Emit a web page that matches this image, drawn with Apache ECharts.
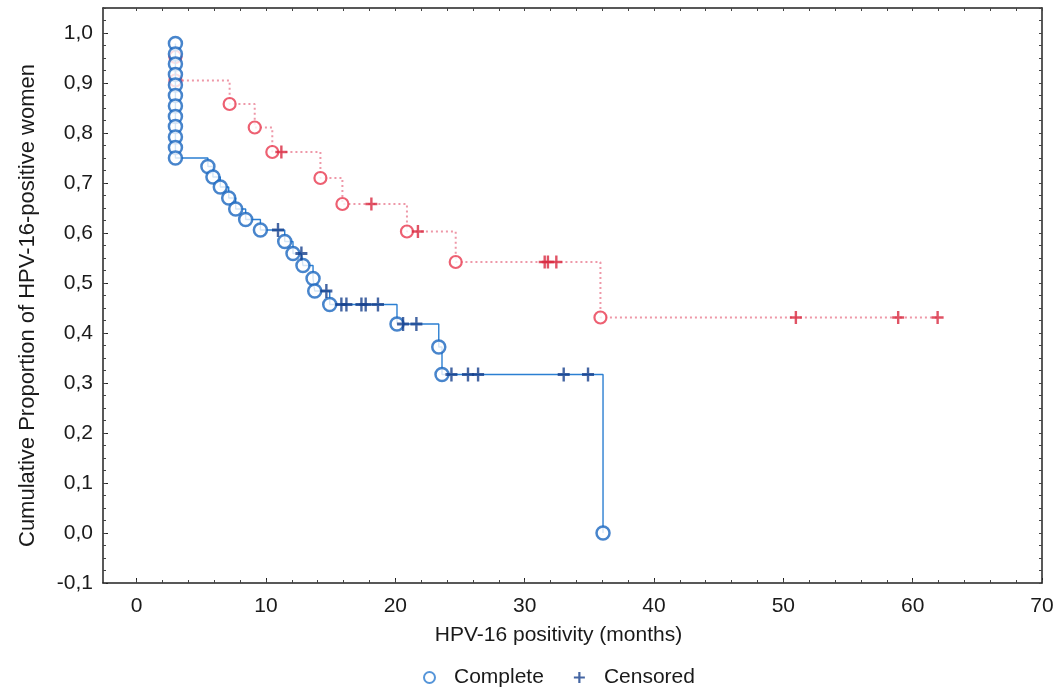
<!DOCTYPE html>
<html>
<head>
<meta charset="utf-8">
<title>HPV-16 positivity</title>
<script src="https://cdn.jsdelivr.net/npm/echarts@6/dist/echarts.min.js"></script>
<style>
    html, body { margin: 0; padding: 0; background: #fff; }
    #container { width: 1062px; height: 694px; }
</style>
</head>
<body>
<div id="container"></div>
<script type="text/javascript">
    // blue group: month, cumulative proportion, 1 = complete / 0 = censored
    var blueTime = [3, 3, 3, 3, 3, 3, 3, 3, 3, 3, 3, 3,
        5.51, 5.90, 6.47, 7.12, 7.66, 8.43, 9.57, 10.93, 11.45, 12.09, 12.74, 12.86,
        13.64, 13.77, 14.67, 14.93, 15.83, 16.22, 17.38, 17.71, 18.66, 20.13, 20.60, 21.63,
        23.36, 23.61, 24.34, 25.62, 26.40, 33.02, 34.90, 36.06];
    var blueProp = [0.979, 0.958, 0.938, 0.917, 0.896, 0.875, 0.854, 0.833, 0.813, 0.792, 0.771, 0.750,
        0.733, 0.712, 0.692, 0.670, 0.648, 0.627, 0.606, 0.606, 0.583, 0.559, 0.559, 0.535,
        0.509, 0.484, 0.484, 0.457, 0.457, 0.457, 0.457, 0.457, 0.457, 0.418, 0.418, 0.418,
        0.372, 0.317, 0.317, 0.317, 0.317, 0.317, 0.317, 0.0];
    var blueDone = [1, 1, 1, 1, 1, 1, 1, 1, 1, 1, 1, 1,
        1, 1, 1, 1, 1, 1, 1, 0, 1, 1, 0, 1,
        1, 1, 0, 1, 0, 0, 0, 0, 0, 1, 0, 0,
        1, 1, 0, 0, 0, 0, 0, 1];

    // red group
    var redTime = [3, 3, 7.19, 9.13, 10.49, 11.19, 14.21, 15.91, 18.15, 20.90, 21.75,
        24.67, 31.55, 31.80, 32.45, 35.86, 50.97, 58.88, 61.93];
    var redProp = [0.952, 0.905, 0.858, 0.811, 0.762, 0.762, 0.710, 0.658, 0.658, 0.603, 0.603,
        0.542, 0.542, 0.542, 0.542, 0.431, 0.431, 0.431, 0.431];
    var redDone = [1, 1, 1, 1, 1, 0, 1, 1, 0, 1, 0,
        1, 0, 0, 0, 1, 0, 0, 0];

    var xLabels = [0, 10, 20, 30, 40, 50, 60, 70];
    var yLabels = [-0.1, 0, 0.1, 0.2, 0.3, 0.4, 0.5, 0.6, 0.7, 0.8, 0.9, 1.0];

    var font = 'Liberation Sans, Arial, sans-serif';
    var plus = 'path://M4,0H6V4H10V6H6V10H4V6H0V4H4Z';

    function pts(t, p) {
        var out = [];
        for (var i = 0; i < t.length; i++) out.push([t[i], p[i]]);
        return out;
    }
    function pick(t, p, d, flag) {
        var out = [];
        for (var i = 0; i < t.length; i++) if (d[i] === flag) out.push([t[i], p[i]]);
        return out;
    }

    var minorX = [], minorY = [];
    for (var i = 0; i <= 35; i++) minorX.push(i * 2);
    for (var j = -4; j <= 42; j++) minorY.push(Math.round(j * 25) / 1000);

    var frame = { onZero: false, lineStyle: { color: '#222', width: 1.5 } };
    var minorTickStyle = { color: '#444', width: 1 };

    var myChart = echarts.init(document.getElementById('container'));

    var option = {
        backgroundColor: '#fff',
        animation: false,
        textStyle: { fontFamily: font },
        grid: [
            { left: 103, right: 20, top: 8, bottom: 111 },
            { left: 103, right: 20, top: 8, bottom: 111 }
        ],
        legend: {
            left: 418,
            bottom: 1,
            itemWidth: 11,
            itemHeight: 11,
            itemGap: 30,
            textStyle: { fontSize: 21, color: '#1a1a1a', fontFamily: font, padding: [0, 0, 0, 14] },
            data: [
                { name: 'Complete', icon: 'circle',
                  itemStyle: { color: '#fff', borderColor: '#2a7bd0', borderWidth: 2 } },
                { name: 'Censored', icon: plus,
                  itemStyle: { color: '#17408c', borderWidth: 0 } }
            ]
        },
        xAxis: [
            {
                type: 'value', gridIndex: 0, position: 'bottom',
                min: -2.6, max: 70,
                name: 'HPV-16 positivity (months)',
                nameLocation: 'middle', nameGap: 42,
                nameTextStyle: { fontSize: 21, color: '#1a1a1a', padding: [0, 28, 0, 0] },
                axisLine: frame,
                axisTick: { inside: true, length: 5, customValues: xLabels, lineStyle: { color: '#222' } },
                axisLabel: { customValues: xLabels, fontSize: 21, color: '#1a1a1a', margin: 13 },
                splitLine: { show: false }
            },
            {
                type: 'value', gridIndex: 0, position: 'top',
                min: -2.6, max: 70,
                axisLine: frame,
                axisTick: { inside: true, length: 3, customValues: minorX, lineStyle: minorTickStyle },
                axisLabel: { show: false },
                splitLine: { show: false }
            },
            {
                type: 'value', gridIndex: 1, position: 'bottom',
                min: -2.6, max: 70,
                axisLine: { show: false, onZero: false },
                axisTick: { inside: true, length: 3, customValues: minorX, lineStyle: minorTickStyle },
                axisLabel: { show: false },
                splitLine: { show: false }
            }
        ],
        yAxis: [
            {
                type: 'value', gridIndex: 0, position: 'left',
                min: -0.1, max: 1.05,
                name: 'Cumulative Proportion of HPV-16-positive women',
                nameLocation: 'middle', nameGap: 64,
                nameTextStyle: { fontSize: 22, color: '#1a1a1a', padding: [0, 20, 0, 0] },
                axisLine: frame,
                axisTick: { inside: true, length: 5, customValues: yLabels, lineStyle: { color: '#222' } },
                axisLabel: {
                    customValues: yLabels, fontSize: 21, color: '#1a1a1a', margin: 10,
                    formatter: function (v) { return v.toFixed(1).replace('.', ','); }
                },
                splitLine: { show: false }
            },
            {
                type: 'value', gridIndex: 0, position: 'right',
                min: -0.1, max: 1.05,
                axisLine: frame,
                axisTick: { inside: true, length: 3, customValues: minorY, lineStyle: minorTickStyle },
                axisLabel: { show: false },
                splitLine: { show: false }
            },
            {
                type: 'value', gridIndex: 1, position: 'left',
                min: -0.1, max: 1.05,
                axisLine: { show: false, onZero: false },
                axisTick: { inside: true, length: 3, customValues: minorY, lineStyle: minorTickStyle },
                axisLabel: { show: false },
                splitLine: { show: false }
            }
        ],
        series: [
            {
                name: 'Complete', type: 'scatter', xAxisIndex: 0, yAxisIndex: 0,
                symbol: 'circle', symbolSize: 13, z: 4,
                itemStyle: { color: '#fff', borderColor: '#1a66bf', borderWidth: 2.5 },
                data: pick(blueTime, blueProp, blueDone, 1)
            },
            {
                name: 'Censored', type: 'scatter', xAxisIndex: 0, yAxisIndex: 0,
                symbol: plus, symbolSize: [12, 14], z: 4,
                itemStyle: { color: '#17408c' },
                data: pick(blueTime, blueProp, blueDone, 0)
            },
            {
                name: 'blue-line', type: 'line', step: 'end', xAxisIndex: 0, yAxisIndex: 0,
                showSymbol: false, symbol: 'none', z: 3,
                lineStyle: { color: '#2b7fd2', width: 1.4 },
                data: pts(blueTime, blueProp)
            },
            {
                name: 'red-line', type: 'line', step: 'end', xAxisIndex: 0, yAxisIndex: 0,
                showSymbol: false, symbol: 'none', z: 1,
                lineStyle: { color: '#ee98a8', width: 2, type: [2, 3] },
                data: pts(redTime, redProp)
            },
            {
                name: 'Complete', type: 'scatter', xAxisIndex: 0, yAxisIndex: 0,
                symbol: 'circle', symbolSize: 12, z: 2,
                itemStyle: { color: '#fff', borderColor: '#e8384f', borderWidth: 2.2 },
                data: pick(redTime, redProp, redDone, 1)
            },
            {
                name: 'Censored', type: 'scatter', xAxisIndex: 0, yAxisIndex: 0,
                symbol: plus, symbolSize: [12, 13], z: 2,
                itemStyle: { color: '#d8283f' },
                data: pick(redTime, redProp, redDone, 0)
            }
        ]
    };

    if (option && typeof option === 'object') {
        myChart.setOption(option);
    }
</script>
</body>
</html>
